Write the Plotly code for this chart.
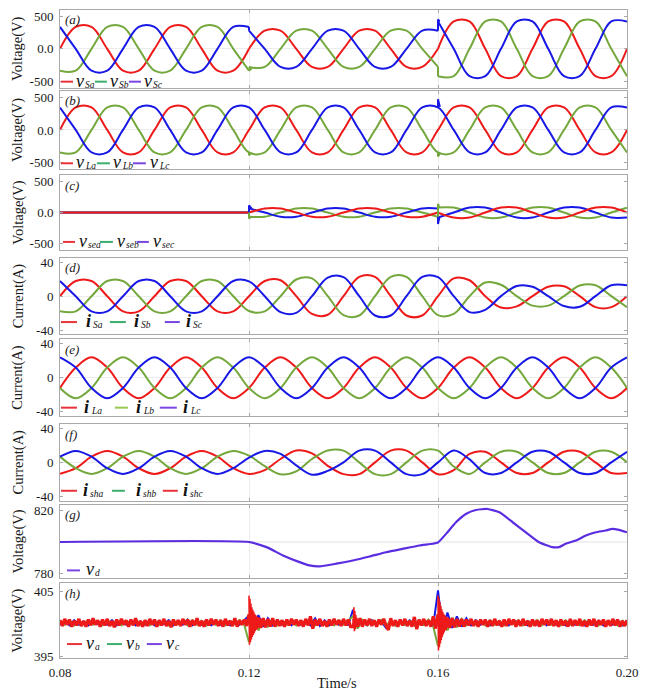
import plotly.graph_objects as go

# ---------------- time grids ----------------
T = [0.08, 0.08333, 0.08667, 0.09, 0.09333, 0.09667, 0.1, 0.10333, 0.10667, 0.11, 0.11333, 0.11667,
     0.12, 0.12333, 0.12667, 0.13, 0.13333, 0.13667, 0.14, 0.14333, 0.14667, 0.15, 0.15333, 0.15667,
     0.16, 0.16333, 0.16667, 0.17, 0.17333, 0.17667, 0.18, 0.18333, 0.18667, 0.19, 0.19333, 0.19667, 0.2]
TN = [round(0.08 + 0.0005 * k, 4) for k in range(241)]
TN2 = [round(0.08 + 0.001 * k, 3) for k in range(121)]
TB1 = [round(0.12 + 0.0001 * k, 4) for k in range(33)]
TB2 = [round(0.16 + 0.0001 * k, 4) for k in range(33)]
TB3 = [round(0.142 + 0.0001 * k, 4) for k in range(13)]
SEG = [(0, 13), (12, 25), (24, 37)]

XTICKS = [0.08, 0.12, 0.16, 0.20]
XTICKTEXT = ["0.08", "0.12", "0.16", "0.20"]

# ---------------- (a) source voltages: pre-sag / sag / swell ----------------
VSA = [[0, 338, 338, 0, -338, -338, 0, 338, 338, 0, -338, -338, 0],
       [0, 280, 280, 0, -280, -280, 0, 280, 280, 0, -280, -280, 0],
       [0, 423, 423, 0, -423, -423, 0, 423, 423, 0, -423, -423, 0]]
VSB = [[-338, -338, 0, 338, 338, 0, -338, -338, 0, 338, 338, 0, -338],
       [-280, -280, 0, 280, 280, 0, -280, -280, 0, 280, 280, 0, -280],
       [-423, -423, 0, 423, 423, 0, -423, -423, 0, 423, 423, 0, -423]]
VSC = [[338, 0, -338, -338, 0, 338, 338, 0, -338, -338, 0, 338, 338],
       [280, 0, -280, -280, 0, 280, 280, 0, -280, -280, 0, 280, 280],
       [423, 0, -423, -423, 0, 423, 423, 0, -423, -423, 0, 423, 423]]
SPK_A = [("g", [0.12, 0.1204, 0.12], [-338, -312, -282]),
         ("b", [0.12, 0.12], [338, 280]),
         ("g", [0.16, 0.16], [-280, -423]),
         ("b", [0.16, 0.16, 0.1603, 0.16], [280, 455, 425, 423])]

# ---------------- (b) load voltages ----------------
VLA = [0, 343, 343, 0, -343, -343, 0, 343, 343, 0, -343, -343, 0, 343, 343, 0, -343, -343,
       0, 343, 343, 0, -343, -343, 0, 343, 343, 0, -343, -343, 0, 343, 343, 0, -343, -343, 0]
VLB = [-343, -343, 0, 343, 343, 0, -343, -343, 0, 343, 343, 0, -343, -343, 0, 343, 343, 0,
       -343, -343, 0, 343, 343, 0, -343, -343, 0, 343, 343, 0, -343, -343, 0, 343, 343, 0, -343]
VLC = [343, 0, -343, -343, 0, 343, 343, 0, -343, -343, 0, 343, 343, 0, -343, -343, 0, 343,
       343, 0, -343, -343, 0, 343, 343, 0, -343, -343, 0, 343, 343, 0, -343, -343, 0, 343, 343]
SPK_B = [("g", [0.12, 0.12, 0.1205], [-340, -388, -346]),
         ("b", [0.16, 0.16, 0.1604], [343, 470, 352]),
         ("g", [0.16, 0.16, 0.1605], [-343, -405, -350])]

# ---------------- (c) series injected voltages ----------------
VSEA = [[0, 0, 0, 0, 0, 0, 0, 0, 0, 0, 0, 0, 0],
        [0, 67, 67, 0, -67, -67, 0, 67, 67, 0, -67, -67, 0],
        [0, -80, -80, 0, 80, 80, 0, -80, -80, 0, 80, 80, 0]]
VSEB = [[0, 0, 0, 0, 0, 0, 0, 0, 0, 0, 0, 0, 0],
        [-67, -67, 0, 67, 67, 0, -67, -67, 0, 67, 67, 0, -67],
        [80, 80, 0, -80, -80, 0, 80, 80, 0, -80, -80, 0, 80]]
VSEC = [[0, 0, 0, 0, 0, 0, 0, 0, 0, 0, 0, 0, 0],
        [67, 0, -67, -67, 0, 67, 67, 0, -67, -67, 0, 67, 67],
        [-80, 0, 80, 80, 0, -80, -80, 0, 80, 80, 0, -80, -80]]
SPK_C = [("b", [0.12, 0.12, 0.1206], [0, 115, 58]),
         ("g", [0.12, 0.12, 0.1205], [0, -95, -62]),
         ("b", [0.16, 0.16, 0.1603], [67, -185, -75]),
         ("g", [0.16, 0.16, 0.1603], [-67, 140, 75])]

# ---------------- (d) source currents ----------------
ISA = [0, 17.8, 17.8, 0, -17.8, -17.8, 0, 17.8, 17.8, 0, -17.8, -17.8, 0, 17.8, 18.7, 0, -20.9, -21.8,
       0, 22.7, 22.7, 0, -22.7, -22.7, 0, 20.9, 18.7, 0, -13.4, -12.0, 0, 11.1, 11.6, 0, -12.9, -12.9, 0]
ISB = [-17.8, -17.8, 0, 17.8, 17.8, 0, -17.8, -17.8, 0, 17.8, 17.8, 0, -17.4, -17.8, 0, 19.6, 20.9, 0,
       -22.3, -22.7, 0, 22.7, 22.7, 0, -22.3, -20.9, 0, 16.0, 13.4, 0, -11.1, -11.1, 0, 12.5, 12.9, 0, -12.9]
ISC = [17.8, 0, -17.8, -17.8, 0, 17.8, 17.8, 0, -17.8, -17.8, 0, 17.8, 17.4, 0, -18.7, -19.6, 0, 21.8,
       22.3, 0, -22.7, -22.7, 0, 22.7, 22.3, 0, -18.7, -16.0, 0, 12.0, 11.1, 0, -11.6, -12.5, 0, 12.9, 12.9]

# ---------------- (e) load currents ----------------
ILA = [-12, 12, 24, 12, -12, -24, -12, 12, 24, 12, -12, -24, -12, 12, 24, 12, -12, -24,
       -12, 12, 24, 12, -12, -24, -12, 12, 24, 12, -12, -24, -12, 12, 24, 12, -12, -24, -12]
ILB = [-12, -24, -12, 12, 24, 12, -12, -24, -12, 12, 24, 12, -12, -24, -12, 12, 24, 12,
       -12, -24, -12, 12, 24, 12, -12, -24, -12, 12, 24, 12, -12, -24, -12, 12, 24, 12, -12]
ILC = [24, 12, -12, -24, -12, 12, 24, 12, -12, -24, -12, 12, 24, 12, -12, -24, -12, 12,
       24, 12, -12, -24, -12, 12, 24, 12, -12, -24, -12, 12, 24, 12, -12, -24, -12, 12, 24]

# ---------------- (f) shunt currents ----------------
ISHA = [-13.5, -6.8, 6.8, 13.5, 6.8, -6.8, -13.5, -6.8, 6.8, 13.5, 6.8, -6.8, -13.5, -9.0, 4.0, 14.0, 10.5, -4.0,
        -13.8, -13.8, 0, 13.8, 13.8, 0, -13.8, -9.0, 10.0, 12.5, 0, -12.5, -12.5, 0, 12.5, 12.5, 0, -12.5, -12.5]
ISHB = [6.8, -6.8, -13.5, -6.8, 6.8, 13.5, 6.8, -6.8, -13.5, -6.8, 6.8, 13.5, 8.0, -4.5, -14.0, -10.5, 4.0, 14.0,
        13.8, 0, -13.8, -13.8, 0, 13.8, 13.8, -4.8, -13.5, 0, 12.5, 12.5, 0, -12.5, -12.5, 0, 12.5, 12.5, 0]
ISHC = [6.8, 13.5, 6.8, -6.8, -13.5, -6.8, 6.8, 13.5, 6.8, -6.8, -13.5, -6.8, 5.5, 13.5, 10.0, -3.5, -14.5, -10.0,
        0, 13.8, 13.8, 0, -13.8, -13.8, 0, 14.0, 3.6, -12.5, -12.5, 0, 12.5, 12.5, 0, -12.5, -12.5, 0, 12.5]

# ---------------- (g) DC-link voltage ----------------
VD_T = [0.0800, 0.1200, 0.1237, 0.1272, 0.1307, 0.1328, 0.1349, 0.1385, 0.1420, 0.1455, 0.1490, 0.1525,
        0.1561, 0.1589, 0.1600, 0.1617, 0.1638, 0.1659, 0.1680, 0.1705, 0.1730, 0.1758, 0.1786, 0.1814,
        0.1842, 0.1856, 0.1870, 0.1892, 0.1913, 0.1934, 0.1955, 0.1969, 0.1983, 0.2000]
VD = [800.0, 800.0, 796.8, 791.6, 787.4, 785.3, 784.7, 786.4, 788.4, 790.9, 793.6, 795.7,
      797.8, 798.9, 799.7, 805.1, 812.4, 817.6, 820.1, 820.7, 818.6, 812.4, 806.1, 799.9,
      796.8, 796.8, 798.9, 800.9, 804.1, 806.1, 807.2, 808.3, 807.6, 806.1]

# ---------------- (h) load-side voltages (noisy) ----------------
VA = [400.6, 399.7, 400.8, 399.9, 400.7, 399.6, 400.5, 399.8, 400.8, 399.7,
      400.5, 399.6, 400.7, 399.8, 400.9, 399.9, 400.6, 399.6, 400.7, 399.8,
      400.8, 399.7, 400.5, 399.5, 400.7, 399.8, 400.8, 399.9, 400.6, 399.6,
      400.7, 399.8, 400.9, 399.7, 400.5, 399.6, 400.6, 399.7, 400.8, 399.9,
      400.7, 399.6, 400.6, 399.8, 400.8, 399.7, 400.5, 399.5, 400.7, 399.8,
      400.6, 399.7, 400.8, 399.9, 400.7, 399.6, 400.6, 399.8, 400.9, 399.7,
      400.5, 399.6, 400.7, 399.8, 400.8, 399.9, 400.7, 399.7, 400.6, 399.6,
      400.8, 399.8, 400.5, 399.7, 400.9, 399.6, 400.6, 399.9, 400.7, 399.7,
      401.5, 398.9, 401.2, 399.2, 401.0, 399.4, 400.9, 399.5, 400.8, 399.6,
      400.9, 399.6, 400.7, 399.7, 400.6, 399.6, 400.7, 399.8, 400.8, 399.9,
      400.7, 399.7, 400.6, 399.6, 400.8, 399.8, 401.2, 399.3, 400.7, 399.8,
      400.8, 399.7, 400.5, 399.6, 400.7, 399.8, 400.8, 399.9, 400.6, 399.7,
      400.8, 399.8, 400.7, 399.6, 399.6, 400.8, 399.6, 400.9, 399.6, 400.7,
      399.8, 400.8, 399.7, 400.6, 399.6, 400.7, 399.9, 400.8, 399.8, 399.1,
      400.9, 399.7, 400.6, 399.6, 400.7, 399.8, 400.8, 399.7, 400.5, 399.6,
      401.1, 399.2, 400.7, 399.8, 400.8, 399.7, 400.6, 399.6, 401.2, 399.3,
      401.5, 398.9, 401.3, 399.1, 401.0, 399.4, 400.9, 399.5, 400.8, 399.6,
      400.8, 399.6, 400.7, 399.8, 400.8, 399.7, 400.6, 399.6, 400.7, 399.9,
      400.7, 399.6, 400.6, 399.7, 400.8, 399.8, 400.5, 399.6, 400.7, 399.7,
      400.8, 399.9, 400.7, 399.6, 400.6, 399.7, 400.8, 399.8, 400.5, 399.6,
      400.7, 399.7, 400.6, 399.6, 400.8, 399.9, 400.7, 399.8, 400.8, 399.7,
      400.6, 399.6, 400.7, 399.8, 400.5, 399.6, 400.8, 399.7, 400.6, 399.8,
      400.8, 399.7, 400.5, 399.6, 400.7, 399.8, 400.8, 399.6, 400.6, 399.9,
      400.7, 399.6, 400.6, 399.7, 400.8, 399.8, 400.7, 399.6, 400.5, 399.7, 400.6]
VA_BURST1 = [404.4, 396.8, 403.9, 397.2, 403.2, 397.6, 402.6, 398.0, 402.2, 398.3, 401.9,
             398.6, 401.6, 398.9, 401.4, 399.1, 401.2, 399.3, 401.0, 399.4, 400.9, 399.5,
             400.8, 399.6, 400.8, 399.7, 400.7, 399.7, 400.7, 399.8, 400.6, 399.8, 400.6]
VA_BURST2 = [404.4, 395.9, 404.0, 396.4, 403.4, 397.0, 402.8, 397.5, 402.3, 398.0, 401.9,
             398.4, 401.6, 398.7, 401.4, 399.0, 401.2, 399.2, 401.0, 399.4, 400.9, 399.5,
             400.8, 399.6, 400.8, 399.7, 400.7, 399.7, 400.7, 399.8, 400.6, 399.8, 400.6]
VA_BURST3 = [400.8, 399.4, 402.6, 398.9, 402.0, 399.2, 401.4, 399.5, 401.0, 399.6, 400.8, 399.7, 400.7]
VB = [400.5, 399.9, 400.6, 399.8, 400.4, 400.0, 400.6, 399.9, 400.5, 399.8,
      400.6, 399.9, 400.4, 399.8, 400.5, 400.0, 400.6, 399.9, 400.5, 399.8,
      400.4, 399.9, 400.6, 399.8, 400.5, 400.0, 400.5, 399.8, 400.6, 399.9,
      400.5, 399.8, 400.4, 399.9, 400.6, 399.8, 400.5, 400.0, 400.6, 399.9,
      397.2, 401.4, 399.0, 400.9, 399.6, 400.7, 399.8, 400.5, 399.9, 400.6,
      399.8, 400.5, 400.0, 400.6, 399.8, 400.5, 399.9, 400.4, 399.8, 400.6,
      399.9, 400.5, 401.2, 399.3, 400.6, 399.8, 400.5, 399.9, 400.6, 399.7,
      400.5, 399.8, 400.6, 399.9, 400.5, 399.8, 400.6, 399.9, 400.7, 399.6,
      396.6, 401.6, 399.0, 401.0, 399.5, 400.8, 399.8, 400.6, 399.9, 400.5,
      399.8, 400.6, 399.9, 400.5, 399.8, 400.4, 400.0, 400.6, 399.8, 400.5,
      399.9, 400.6, 399.8, 400.5, 399.9, 400.4, 399.8, 400.6, 399.9, 400.5,
      399.8, 400.6, 399.9, 400.5, 399.8, 400.4, 400.0, 400.6, 399.8, 400.5, 399.9]
VC = [399.9, 400.5, 399.8, 400.6, 399.9, 400.4, 399.8, 400.6, 400.0, 400.5,
      399.9, 400.6, 399.8, 400.5, 399.9, 400.6, 399.8, 400.4, 399.9, 400.6,
      399.8, 400.5, 400.0, 400.6, 399.8, 400.5, 399.9, 400.7, 399.8, 400.5,
      399.9, 400.6, 399.8, 400.4, 399.9, 400.6, 399.8, 400.5, 399.9, 400.6,
      401.3, 399.2, 401.4, 399.6, 400.9, 399.8, 400.6, 399.9, 400.5, 399.8,
      400.6, 399.9, 400.5, 399.8, 400.9, 399.7, 400.6, 399.8, 400.5, 399.9,
      400.6, 399.8, 402.2, 399.6, 400.5, 399.8, 400.6, 399.9, 400.4, 399.4,
      400.6, 399.8, 400.5, 399.9, 400.6, 399.8, 400.5, 399.9, 400.4, 399.8,
      405.2, 399.0, 401.8, 399.4, 401.2, 399.6, 400.9, 399.8, 400.6, 399.9,
      400.5, 399.8, 400.6, 399.9, 400.5, 399.8, 400.6, 400.0, 400.5, 399.8,
      400.6, 399.9, 400.5, 399.8, 400.6, 399.9, 400.5, 399.8, 400.6, 399.9,
      400.5, 399.8, 400.6, 399.9, 400.5, 399.8, 400.4, 399.9, 400.6, 399.8, 400.5]

# ---------------- styling ----------------
W, H = 645, 691
ML, MR, MT, MB = 60, 17, 7, 33
PW, PH = W - ML - MR, H - MT - MB
FONT = "Liberation Serif"
RED, GRN, BLU, VIO = "#ee1a1a", "#74a83c", "#1818e6", "#5b2de0"
LRED, LGRN, LPUR, LGRN2 = "#e8333a", "#3cae6e", "#7a45e0", "#98c94f"
CMAP = {"r": RED, "g": GRN, "b": BLU}
FRAME = "#a9a9a9"

PANEL_PX = [(7, 85), (88, 167), (173, 248), (256, 333), (338, 415), (423, 500), (504, 578), (583, 658)]


def px(x):
    return (x - ML) / PW


def py(y):
    return (H - MB - y) / PH


fig = go.Figure()


def axn(kind, i):
    return kind if i == 1 else f"{kind}{i}"


def add(i, x, y, color, width=2.0, shape="spline", smoothing=1.0):
    fig.add_trace(go.Scatter(x=x, y=y, xaxis=axn("x", i), yaxis=axn("y", i), mode="lines",
                             line=dict(color=color, width=width, shape=shape, smoothing=smoothing),
                             showlegend=False, hoverinfo="skip"))


def add_segmented(i, series, color):
    for s, (i0, i1) in enumerate(SEG):
        add(i, T[i0:i1], series[s], color)


# (a)
for ser, c in [(VSA, RED), (VSB, GRN), (VSC, BLU)]:
    add_segmented(1, ser, c)
for c, tt, vv in SPK_A:
    add(1, tt, vv, CMAP[c], shape="linear")
# (b)
for ser, c in [(VLA, RED), (VLB, GRN), (VLC, BLU)]:
    add(2, T, ser, c)
for c, tt, vv in SPK_B:
    add(2, tt, vv, CMAP[c], shape="linear")
# (c)
for ser, c in [(VSEB, GRN), (VSEC, BLU), (VSEA, RED)]:
    add_segmented(3, ser, c)
for c, tt, vv in SPK_C:
    add(3, tt, vv, CMAP[c], shape="linear")
# (d) (e) (f)
for ser, c in [(ISA, RED), (ISB, GRN), (ISC, BLU)]:
    add(4, T, ser, c)
for ser, c in [(ILA, RED), (ILB, GRN), (ILC, BLU)]:
    add(5, T, ser, c)
for ser, c in [(ISHA, RED), (ISHB, GRN), (ISHC, BLU)]:
    add(6, T, ser, c)
# (g)
add(7, VD_T, VD, VIO, width=2.2, shape="spline", smoothing=0.5)
# (h)
add(8, TN2, VC, BLU, width=2.0, shape="linear")
add(8, TN2, VB, GRN, width=2.0, shape="linear")
add(8, TN, VA, RED, width=3.2, shape="linear")
add(8, TB1, VA_BURST1, RED, width=1.6, shape="linear")
add(8, TB2, VA_BURST2, RED, width=1.6, shape="linear")
add(8, TB3, VA_BURST3, RED, width=1.6, shape="linear")

YCFG = [
    ([-600, 600], [-500, 0, 500], ["-500", "0.0", "500"], "Voltage(V)"),
    ([-600, 600], [-500, 0, 500], ["-500", "0.0", "500"], "Voltage(V)"),
    ([-600, 600], [-500, 0, 500], ["-500", "0.0", "500"], "Voltage(V)"),
    ([-45, 45], [-40, 0, 40], ["-40", "0", "40"], "Current(A)"),
    ([-45, 45], [-40, 0, 40], ["-40", "0", "40"], "Current(A)"),
    ([-45, 45], [-40, 0, 40], ["-40", "0", "40"], "Current(A)"),
    ([777.2, 823.4], [780, 820], ["780", "820"], "Voltage(V)"),
    ([394.75, 406.3], [395, 405], ["395", "405"], "Voltage(V)"),
]

layout = dict(width=W, height=H, margin=dict(l=ML, r=MR, t=MT, b=MB),
              paper_bgcolor="white", plot_bgcolor="white", showlegend=False)
tickfont = dict(family=FONT, size=13, color="#1a1a1a")
for i in range(1, 9):
    top, bot = PANEL_PX[i - 1]
    layout[axn("xaxis", i)] = dict(
        domain=[0, 1], anchor=axn("y", i), range=[0.08, 0.20], tickvals=XTICKS, ticktext=XTICKTEXT,
        showticklabels=(i == 8), showline=True, linecolor=FRAME, linewidth=1, mirror="ticks",
        ticks="inside", ticklen=3, tickcolor=FRAME, showgrid=True, gridcolor="#ececec", gridwidth=1,
        zeroline=False, tickfont=tickfont, ticklabelstandoff=2)
    rng, tv, tt, _ = YCFG[i - 1]
    layout[axn("yaxis", i)] = dict(
        domain=[py(bot), py(top)], anchor=axn("x", i), range=rng, tickvals=tv, ticktext=tt,
        showline=True, linecolor=FRAME, linewidth=1, mirror="ticks", ticks="inside", ticklen=3,
        tickcolor=FRAME, showgrid=False, zeroline=(i <= 6), zerolinecolor="#ececec", zerolinewidth=1,
        tickfont=tickfont, ticklabelstandoff=3)

shapes = [dict(type="line", xref="paper", x0=0, x1=1, yref="y7", y0=800, y1=800,
               line=dict(color="#e2e2e2", width=1), layer="below")]
annotations = []

# y-axis titles and panel tags
TAGS = ["(a)", "(b)", "(c)", "(d)", "(e)", "(f)", "(g)", "(h)"]
for i in range(8):
    top, bot = PANEL_PX[i]
    annotations.append(dict(text=YCFG[i][3], x=px(18), y=py((top + bot) / 2), xref="paper", yref="paper",
                            textangle=-90, showarrow=False, xanchor="center", yanchor="middle",
                            font=dict(family=FONT, size=14.5, color="#1a1a1a")))
    annotations.append(dict(text=f"<i>{TAGS[i]}</i>", x=px(63), y=py(top + 10), xref="paper", yref="paper",
                            showarrow=False, xanchor="left", yanchor="middle",
                            font=dict(family=FONT, size=13, color="#1a1a1a")))
annotations.append(dict(text="Time/s", x=px(337), y=py(683), xref="paper", yref="paper", showarrow=False,
                        xanchor="center", yanchor="middle", font=dict(family=FONT, size=14.5, color="#1a1a1a")))

LEGENDS = [
    (79, [(61, 73, LRED, 75, "v", "Sa"), (95, 107, LGRN, 109, "v", "Sb"), (129, 141, LPUR, 143, "v", "Sc")]),
    (161, [(61, 73, LRED, 75, "v", "La"), (97, 110, LGRN, 112, "v", "Lb"), (133, 146, LPUR, 149, "v", "Lc")]),
    (240, [(63, 75, LRED, 78, "v", "sea"), (100, 113, LGRN, 116, "v", "seb"), (137, 149, LPUR, 152, "v", "sec")]),
    (320.5, [(61, 77, LRED, 85, "i", "Sa"), (110, 126, LGRN, 133, "i", "Sb"), (165, 180, LPUR, 185, "i", "Sc")]),
    (406.5, [(61, 77, LRED, 83, "i", "La"), (115, 128, LGRN2, 135, "i", "Lb"), (160, 177, LPUR, 182, "i", "Lc")]),
    (490, [(61, 77, LRED, 82, "i", "sha"), (112, 125, LGRN, 135, "i", "shb"), (163, 178, LRED, 182, "i", "shc")]),
    (570, [(67, 80, LPUR, 85, "v", "d")]),
    (644, [(67, 82, LRED, 85, "v", "a"), (107, 122, LGRN, 125, "v", "b"), (147, 162, LPUR, 165, "v", "c")]),
]
for ly, items in LEGENDS:
    for x0, x1, col, tx, sym, sub in items:
        shapes.append(dict(type="line", xref="paper", yref="paper", x0=px(x0), x1=px(x1), y0=py(ly), y1=py(ly),
                           line=dict(color=col, width=2)))
        main = "<b><i>i</i></b>" if sym == "i" else "<i>v</i>"
        annotations.append(dict(text=main, x=px(tx - 1), y=py(ly - 1), xref="paper", yref="paper",
                                showarrow=False, xanchor="left", yanchor="middle",
                                font=dict(family=FONT, size=18, color="#111111")))
        sx = tx + (6 if sym == "i" else 8)
        annotations.append(dict(text=f"<i>{sub}</i>", x=px(sx), y=py(ly + 3), xref="paper", yref="paper",
                                showarrow=False, xanchor="left", yanchor="middle",
                                font=dict(family=FONT, size=9.5, color="#111111")))

layout["shapes"] = shapes
layout["annotations"] = annotations
fig.update_layout(**layout)
fig.write_html("out.html")
